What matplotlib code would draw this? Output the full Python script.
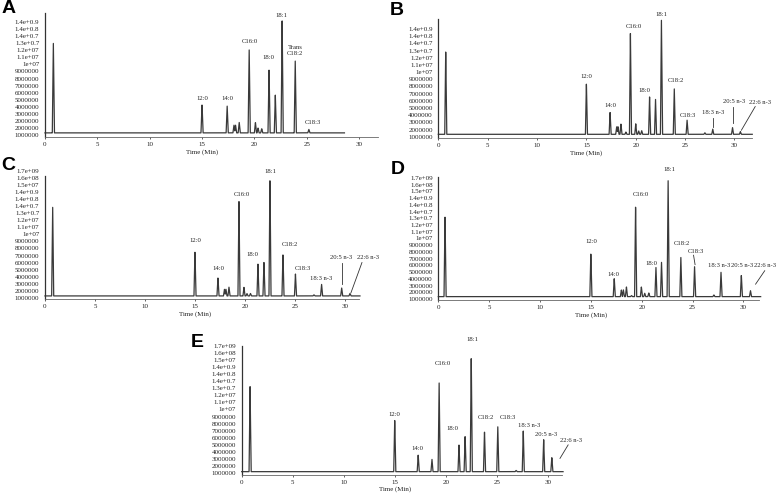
import numpy as np
import matplotlib.pyplot as plt

plt.rcParams['font.family'] = ['Liberation Serif', 'DejaVu Serif']

# y tick labels exactly as printed on the original panels (bottom -> top)
ylab_A = ['1000000', '2000000', '2000000', '3000000', '4000000', '5000000', '6000000',
          '7000000', '8000000', '9000000', '1e+07', '1.1e+07', '1.2e+07',
          '1.3e+0.7', '1.4e+0.7', '1.4e+0.8', '1.4e+0.9']
ylab_B = ['1000000', '2000000', '3000000', '4000000', '5000000', '6000000',
          '7000000', '8000000', '9000000', '1e+07', '1.1e+07', '1.2e+07',
          '1.3e+0.7', '1.4e+0.7', '1.4e+0.8', '1.4e+0.9']
ylab_CDE = ylab_B + ['1.5e+07', '1.6e+08', '1.7e+09']

# retention times (min) and apex levels (in tick-label steps)
rt_A = [0.8, 15.0, 17.4, 18.05, 18.2, 18.55, 19.5, 20.1, 20.35, 20.7, 21.4, 22.0, 22.65, 23.9, 25.2]
top_A = [13.1, 4.35, 4.1, 1.4, 1.4, 1.8, 12.4, 1.8, 1.0, 0.9, 9.35, 5.7, 16.2, 10.6, 0.8]

rt_B = [0.75, 15.0, 17.4, 18.07, 18.2, 18.5, 19.0, 19.46, 20.0, 20.3, 20.6, 21.4, 22.0,
        22.6, 23.9, 25.2, 27.0, 27.8, 29.8, 30.6]
top_B = [12.1, 7.5, 3.4, 1.4, 1.4, 1.8, 0.65, 14.6, 1.8, 0.8, 0.85, 5.6, 5.35,
         16.3, 6.9, 2.3, 0.55, 1.05, 1.3, 0.7]

rt_C = [0.77, 15.0, 17.3, 17.95, 18.1, 18.4, 19.4, 19.9, 20.2, 20.55, 21.3, 21.9, 22.5,
        23.8, 25.05, 26.9, 27.66, 29.67, 30.5]
top_C = [13.1, 6.6, 2.85, 1.2, 1.2, 1.5, 13.8, 1.5, 0.6, 0.6, 4.8, 5.1, 17.2,
         6.3, 3.4, 0.4, 1.95, 1.4, 0.6]

rt_D = [0.66, 15.0, 17.3, 18.0, 18.2, 18.5, 19.0, 19.4, 19.97, 20.3, 20.7, 21.4, 21.95,
        22.6, 23.85, 25.2, 27.1, 27.8, 29.8, 30.7]
top_D = [12.4, 6.8, 3.1, 1.35, 1.35, 1.8, 0.5, 14.0, 1.8, 0.85, 0.9, 4.8, 5.45,
         17.6, 6.3, 4.8, 0.6, 3.96, 3.56, 1.24]

rt_E = [0.82, 15.0, 17.3, 18.65, 19.35, 21.3, 21.9, 22.5, 23.8, 25.1, 26.9, 27.6, 29.6, 30.4]
top_E = [12.3, 7.6, 2.6, 2.0, 13.2, 4.0, 5.26, 16.7, 6.0, 6.8, 0.4, 6.0, 4.8, 2.25]

# peak names: (text, x, y)
names_A = [('12:0', 15.0, 5.1), ('14:0', 17.4, 5.2), ('C16:0', 19.6, 13.3), ('18:0', 21.3, 11.0),
           ('18:1', 22.6, 16.9), ('Trans\nC18:2', 23.9, 12.0), ('C18:3', 25.6, 1.8)]
names_B = [('12:0', 15.0, 8.4), ('14:0', 17.4, 4.3), ('C16:0', 19.8, 15.3), ('18:0', 20.9, 6.4),
           ('18:1', 22.6, 17.0), ('C18:2', 24.1, 7.9), ('C18:3', 25.3, 3.0),
           ('18:3 n-3', 27.8, 3.35), ('20:5 n-3', 30.0, 4.9), ('22:6 n-3', 32.6, 4.7)]
names_C = [('12:0', 15.0, 8.1), ('14:0', 17.3, 4.1), ('C16:0', 19.7, 14.7), ('18:0', 20.7, 6.2),
           ('18:1', 22.5, 17.9), ('C18:2', 24.5, 7.5), ('C18:3', 25.75, 4.1),
           ('18:3 n-3', 27.6, 2.75), ('20:5 n-3', 29.6, 5.7), ('22:6 n-3', 32.3, 5.7)]
names_D = [('12:0', 15.0, 8.6), ('14:0', 17.2, 3.7), ('C16:0', 19.9, 15.6), ('18:0', 21.0, 5.2),
           ('18:1', 22.7, 19.2), ('C18:2', 24.0, 8.2), ('C18:3', 25.3, 7.0),
           ('18:3 n-3', 27.6, 5.0), ('20:5 n-3', 29.9, 5.0), ('22:6 n-3', 32.15, 5.0)]
names_E = [('12:0', 15.0, 8.3), ('14:0', 17.2, 3.5), ('C16:0', 19.7, 15.5), ('18:0', 20.65, 6.3),
           ('18:1', 22.6, 18.8), ('C18:2', 23.9, 7.8), ('C18:3', 26.1, 7.8),
           ('18:3 n-3', 28.2, 6.7), ('20:5 n-3', 29.8, 5.4), ('22:6 n-3', 32.3, 4.55)]

# leader lines: (x0, y0, x1, y1)
lines_B = [(27.8, 2.55, 27.8, 1.4), (29.85, 4.1, 29.85, 1.9), (32.1, 4.2, 30.7, 0.9)]
lines_C = [(29.67, 5.0, 29.67, 2.0), (31.7, 5.0, 30.6, 0.7)]
lines_D = [(25.1, 6.5, 25.25, 5.1), (32.1, 4.2, 31.2, 2.2)]
lines_E = [(32.0, 4.0, 31.2, 2.1)]

panels = [
    # letter, rect, xmax, ylim, spine top, labels, rt, top, base, signal end, names, lines, letter pos
    ('A', [0.0578, 0.723, 0.428, 0.251], 31.8, (-0.3, 17.3), 17.3, ylab_A, rt_A, top_A, 0.3, 28.6,
     names_A, [], (0.002, 0.999)),
    ('B', [0.5634, 0.721, 0.4035, 0.2404], 31.8, (-0.2, 16.4), 16.4, ylab_B, rt_B, top_B, 0.33, 31.8,
     names_B, lines_B, (0.501, 0.996)),
    ('C', [0.0578, 0.3958, 0.4036, 0.2598], 31.4, (-0.2, 18.1), 17.3, ylab_CDE, rt_C, top_C, 0.25, 31.5,
     names_C, lines_C, (0.002, 0.682)),
    ('D', [0.5634, 0.3933, 0.4117, 0.2501], 31.5, (-0.2, 18.2), 18.1, ylab_CDE, rt_D, top_D, 0.35, 31.7,
     names_D, lines_D, (0.502, 0.675)),
    ('E', [0.3107, 0.041, 0.4117, 0.2624], 31.4, (-0.2, 18.1), 18.0, ylab_CDE, rt_E, top_E, 0.23, 31.5,
     names_E, lines_E, (0.245, 0.325)),
]

fig = plt.figure(figsize=(7.78, 4.95), dpi=100)

for (letter, rect, xmax, ylim, spine_top, ylab, rt, top, base, xend,
     names, lines, lpos) in panels:
    ax = fig.add_axes(rect)
    # chromatogram trace: narrow triangular peaks on a flat baseline
    t = np.linspace(0, xend, 4000)
    sig = np.full_like(t, base)
    w = 0.1
    for r, h in zip(rt, top):
        tri = base + (h - base) * np.clip(1 - np.abs(t - r) / w, 0, None)
        sig = np.maximum(sig, tri)
    ax.plot(t, sig, color='#3a3a3a', lw=0.9, clip_on=False)

    ax.set_xlim(0, xmax)
    ax.set_ylim(*ylim)
    ax.set_xticks(range(0, 31, 5))
    ax.set_yticks(range(len(ylab)))
    ax.set_yticklabels(ylab)
    ax.tick_params(axis='y', length=0, pad=4, labelsize=5, colors='#222222')
    ax.tick_params(axis='x', length=1.5, width=0.5, pad=2, labelsize=5, colors='#222222')
    for s in ['top', 'right']:
        ax.spines[s].set_visible(False)
    ax.spines['left'].set_bounds(ylim[0], spine_top)
    ax.spines['left'].set_color('#333333')
    ax.spines['left'].set_linewidth(0.9)
    ax.spines['bottom'].set_color('#666666')
    ax.spines['bottom'].set_linewidth(0.6)

    ax.set_xlabel('Time (Min)', fontsize=5, labelpad=1.5, color='#222222')
    ax.xaxis.label.set_x(15 / xmax)

    for txt, x, y in names:
        ax.text(x, y, txt, fontsize=4.8, ha='center', va='center', color='#222222',
                linespacing=1.3, clip_on=False)
    for x0, y0, x1, y1 in lines:
        ax.plot([x0, x1], [y0, y1], color='#333333', lw=0.6, clip_on=False)

    fig.text(lpos[0], lpos[1], letter, fontsize=14, fontweight='bold', va='top', ha='left',
             family=['Liberation Sans', 'DejaVu Sans'])

fig.savefig('out.png', dpi=100)
